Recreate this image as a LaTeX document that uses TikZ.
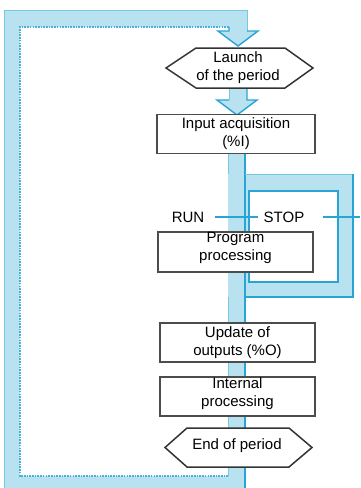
\documentclass[tikz,border=0pt]{standalone}
\usepackage{fontspec}
\setmainfont{Liberation Sans}
\definecolor{bandfill}{RGB}{184,226,240}
\definecolor{bandline}{RGB}{40,165,212}
\definecolor{bandlight}{RGB}{120,200,228}
\begin{document}
\begin{tikzpicture}[x=1pt,y=-1pt,
  bandarea/.style={fill=bandfill},
  darkedge/.style={draw=bandline, line width=1.4pt},
  dotedge/.style={draw=bandline!85, line width=1.6pt, dash pattern=on 1.6pt off 1.1pt},
  lightedge/.style={draw=bandlight, line width=0.8pt},
  crossline/.style={draw=bandline, line width=1.8pt},
  stepbox/.style={draw=black!70, fill=white, line width=1.7pt, minimum width=155pt,
    minimum height=39pt, inner sep=0pt, align=center, font=\fontsize{15}{18}\selectfont},
  hexshape/.style={draw=black!80, fill=white, line width=1.5pt, line join=miter},
  lbl/.style={font=\fontsize{15}{18}\selectfont, align=center, inner sep=0pt},
]
\useasboundingbox (0,0) rectangle (360,488);
\fill[white] (0,0) rectangle (360,488);

% ---- band fills ----
\fill[bandarea] (4,10) rectangle (20,488);
\fill[bandarea] (4,10) rectangle (247,27);
\fill[bandarea] (229,10) rectangle (247,32);
\fill[bandarea] (218,31) -- (258,31) -- (238,46) -- cycle;
\fill[bandarea] (229,86) rectangle (247,101);
\fill[bandarea] (217,100) -- (257,100) -- (237,115) -- cycle;
\fill[bandarea] (228,150) rectangle (245,488);
\fill[bandarea] (4,476) rectangle (245,488);
\fill[bandarea,even odd rule] (228,174) rectangle (353,297) (249,191) rectangle (338,282);

% ---- band edges ----
\draw[lightedge] (4,488) -- (4,10) -- (247,10) -- (247,31);
\draw[dotedge] (228,476) -- (20,476) -- (20,27) -- (229,27);
\draw[darkedge] (229,27) -- (229,31) -- (218,31) -- (238,46) -- (258,31) -- (247,31);
\draw[lightedge] (229,88) -- (229,100);
\draw[darkedge] (247,88) -- (247,100) -- (257,100) -- (237,115) -- (217,100) -- (229,100);
\draw[lightedge] (228,153) -- (228,174);
\draw[lightedge] (228,297) -- (228,476);
\draw[darkedge] (245,153) -- (245,488);
\draw[lightedge] (245,174) -- (353,174);
\draw[darkedge] (353,174) -- (353,297) -- (245,297);
\draw[darkedge] (249,191) rectangle (338,282);

% ---- RUN / STOP switches ----
\draw[crossline] (215,217) -- (258,217);
\draw[crossline] (323,217) -- (360,217);
\node[lbl] (run) at (188,217) {RUN};
\node[lbl] (stop) at (284,217) {STOP};

% ---- launch hexagon ----
\draw[hexshape] (166,68) -- (196,48) -- (285,48) -- (313,68) -- (285,88) -- (196,88) -- cycle;
\node[lbl] (launch) at (238,68) {Launch\\of the period};

% ---- boxes ----
\node[stepbox, minimum width=158pt] (input) at (236,134) {Input acquisition\\(\%I)};
\node[stepbox, text depth=11pt] (prog) at (235.5,252) {Program\\processing};
\node[stepbox] (update) at (237.5,342.5) {Update of\\outputs (\%O)};
\node[stepbox, text depth=9pt] (internal) at (237.5,396.5) {Internal\\processing};

% ---- end hexagon ----
\draw[hexshape] (165,447.5) -- (187,428) -- (289,428) -- (312,447.5) -- (289,467) -- (187,467) -- cycle;
\node[lbl] (endp) at (237,446) {End of period};
\end{tikzpicture}
\end{document}
